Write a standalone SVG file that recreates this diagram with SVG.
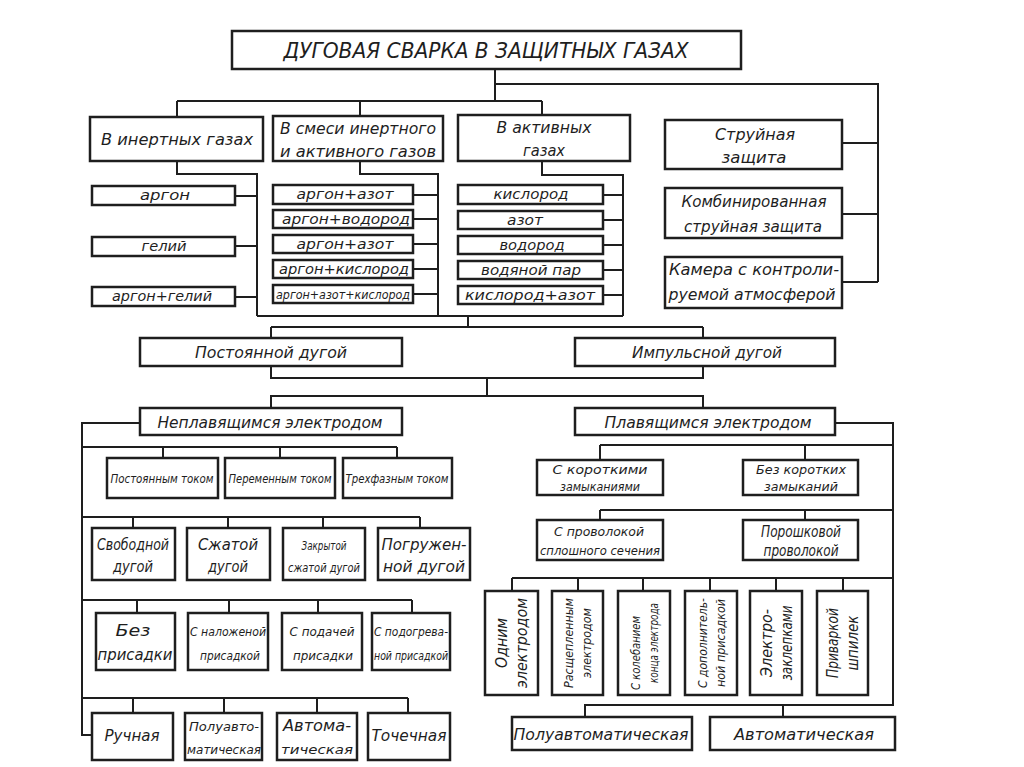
<svg xmlns="http://www.w3.org/2000/svg" width="1024" height="767" viewBox="0 0 1024 767">
<style>
.b{fill:#fff;stroke:#1e1e1e;stroke-width:2.5}
.c{fill:none;stroke:#1e1e1e;stroke-width:2}
.t{font-family:"Liberation Sans Narrow","DejaVu Sans Condensed","Liberation Sans",sans-serif;font-style:italic;fill:#1e1e1e;text-anchor:middle;font-size:14px}
.l{font-size:16px}
.s{font-size:13px}
</style>
<rect width="1024" height="767" fill="#fff"/>
<g id="connectors">
<path class="c" d="M495,69V101M495,84H878V282M842,143H878M842,214H878M842,282H878"/>
<path class="c" d="M177,101H542M177,101V117M360,101V116M542,101V115"/>
<path class="c" d="M177,161V174H257V316M235,196H257M235,246H257M235,297H257"/>
<path class="c" d="M360,161V174H438V316M413,195H438M413,219H438M413,244H438M413,269H438M413,294H438"/>
<path class="c" d="M542,161V175H623V316M603,195H623M603,220H623M603,245H623M603,270H623M603,295H623"/>
<path class="c" d="M257,316H623M468,316V327M271,327H703M271,327V338M703,327V338"/>
<path class="c" d="M271,366V378H703V366M487,378V396M271,408V396H703V408"/>
<path class="c" d="M140,423H82V735H92"/>
<path class="c" d="M82,447H397M163,447V458M280,447V458M397,447V458"/>
<path class="c" d="M82,517H420M133,517V528M228,517V528M323,517V528M420,517V528"/>
<path class="c" d="M82,600H412M137,600V613M229,600V613M318,600V613M412,600V613"/>
<path class="c" d="M82,698H408M133,698V713M224,698V713M317,698V713M408,698V713"/>
<path class="c" d="M835,423H893V705H585V717M783,705V717"/>
<path class="c" d="M600,445H893M600,445V460M805,445V460"/>
<path class="c" d="M600,510H893M600,510V520M805,510V520"/>
<path class="c" d="M512,578H893M512,578V591M578,578V591M643,578V591M710,578V591M776,578V591M843,578V591"/>
</g>
<g id="title"><rect class="b" x="232" y="31" width="509" height="38"/><text class="t" x="486" y="58" style="font-size:22px" textLength="405" lengthAdjust="spacingAndGlyphs">ДУГОВАЯ СВАРКА В ЗАЩИТНЫХ ГАЗАХ</text></g>
<g id="inert"><rect class="b" x="90" y="117" width="173" height="44"/><text class="t l" x="177" y="145" textLength="152" lengthAdjust="spacingAndGlyphs">В инертных газах</text></g>
<g id="mix"><rect class="b" x="273" y="116" width="170" height="45"/><text class="t l" x="358" y="134" textLength="156" lengthAdjust="spacingAndGlyphs">В смеси инертного</text><text class="t l" x="358" y="157" textLength="156" lengthAdjust="spacingAndGlyphs">и активного газов</text></g>
<g id="active"><rect class="b" x="458" y="115" width="172" height="46"/><text class="t l" x="544" y="133" textLength="95" lengthAdjust="spacingAndGlyphs">В активных</text><text class="t l" x="544" y="156" textLength="42" lengthAdjust="spacingAndGlyphs">газах</text></g>
<g id="g-argon"><rect class="b" x="92" y="186" width="143" height="19"/><text class="t" x="165" y="200" textLength="50" lengthAdjust="spacingAndGlyphs">аргон</text></g>
<g id="g-helium"><rect class="b" x="92" y="237" width="143" height="19"/><text class="t" x="164" y="251" textLength="45" lengthAdjust="spacingAndGlyphs">гелий</text></g>
<g id="g-arhe"><rect class="b" x="92" y="287" width="143" height="19"/><text class="t" x="162" y="301" textLength="100" lengthAdjust="spacingAndGlyphs">аргон+гелий</text></g>
<g id="m1"><rect class="b" x="273" y="185" width="140" height="19"/><text class="t" x="345" y="199" textLength="97" lengthAdjust="spacingAndGlyphs">аргон+азот</text></g>
<g id="m2"><rect class="b" x="273" y="210" width="140" height="18"/><text class="t" x="346" y="224" textLength="128" lengthAdjust="spacingAndGlyphs">аргон+водород</text></g>
<g id="m3"><rect class="b" x="273" y="235" width="140" height="18"/><text class="t" x="345" y="249" textLength="97" lengthAdjust="spacingAndGlyphs">аргон+азот</text></g>
<g id="m4"><rect class="b" x="273" y="260" width="140" height="18"/><text class="t" x="344" y="274" textLength="130" lengthAdjust="spacingAndGlyphs">аргон+кислород</text></g>
<g id="m5"><rect class="b" x="273" y="285" width="140" height="18"/><text class="t s" x="343" y="299" textLength="134" lengthAdjust="spacingAndGlyphs">аргон+азот+кислород</text></g>
<g id="a1"><rect class="b" x="458" y="185" width="145" height="19"/><text class="t" x="531" y="199" textLength="75" lengthAdjust="spacingAndGlyphs">кислород</text></g>
<g id="a2"><rect class="b" x="458" y="211" width="145" height="18"/><text class="t" x="525" y="225" textLength="36" lengthAdjust="spacingAndGlyphs">азот</text></g>
<g id="a3"><rect class="b" x="458" y="236" width="145" height="18"/><text class="t" x="532" y="250" textLength="65" lengthAdjust="spacingAndGlyphs">водород</text></g>
<g id="a4"><rect class="b" x="458" y="261" width="145" height="18"/><text class="t" x="531" y="275" textLength="100" lengthAdjust="spacingAndGlyphs">водяной пар</text></g>
<g id="a5"><rect class="b" x="458" y="286" width="145" height="18"/><text class="t" x="530" y="300" textLength="130" lengthAdjust="spacingAndGlyphs">кислород+азот</text></g>
<g id="jet"><rect class="b" x="665" y="120" width="177" height="49"/><text class="t l" x="755" y="140" textLength="80" lengthAdjust="spacingAndGlyphs">Струйная</text><text class="t l" x="754" y="163" textLength="65" lengthAdjust="spacingAndGlyphs">защита</text></g>
<g id="combo"><rect class="b" x="665" y="188" width="177" height="50"/><text class="t l" x="754" y="207" textLength="145" lengthAdjust="spacingAndGlyphs">Комбинированная</text><text class="t l" x="753" y="232" textLength="138" lengthAdjust="spacingAndGlyphs">струйная защита</text></g>
<g id="chamber"><rect class="b" x="665" y="257" width="177" height="51"/><text class="t l" x="754" y="275" textLength="170" lengthAdjust="spacingAndGlyphs">Камера с контроли-</text><text class="t l" x="752" y="300" textLength="167" lengthAdjust="spacingAndGlyphs">руемой атмосферой</text></g>
<g id="const-arc"><rect class="b" x="140" y="338" width="262" height="28"/><text class="t l" x="271" y="358" textLength="152" lengthAdjust="spacingAndGlyphs">Постоянной дугой</text></g>
<g id="pulse-arc"><rect class="b" x="575" y="338" width="260" height="28"/><text class="t l" x="707" y="358" textLength="150" lengthAdjust="spacingAndGlyphs">Импульсной дугой</text></g>
<g id="nonconsumable"><rect class="b" x="140" y="408" width="262" height="27"/><text class="t l" x="270" y="428" textLength="225" lengthAdjust="spacingAndGlyphs">Неплавящимся электродом</text></g>
<g id="consumable"><rect class="b" x="575" y="408" width="260" height="27"/><text class="t l" x="708" y="428" textLength="207" lengthAdjust="spacingAndGlyphs">Плавящимся электродом</text></g>
<g id="dc"><rect class="b" x="107" y="458" width="111" height="40"/><text class="t s" x="162" y="483" textLength="103" lengthAdjust="spacingAndGlyphs">Постоянным током</text></g>
<g id="ac"><rect class="b" x="225" y="458" width="110" height="40"/><text class="t s" x="280" y="483" textLength="103" lengthAdjust="spacingAndGlyphs">Переменным током</text></g>
<g id="three"><rect class="b" x="343" y="458" width="109" height="40"/><text class="t s" x="397" y="483" textLength="103" lengthAdjust="spacingAndGlyphs">Трехфазным током</text></g>
<g id="free"><rect class="b" x="92" y="528" width="83" height="52"/><text class="t l" x="133" y="550" textLength="72" lengthAdjust="spacingAndGlyphs">Свободной</text><text class="t l" x="133" y="572" textLength="40" lengthAdjust="spacingAndGlyphs">дугой</text></g>
<g id="compressed"><rect class="b" x="187" y="528" width="83" height="52"/><text class="t l" x="228" y="550" textLength="60" lengthAdjust="spacingAndGlyphs">Сжатой</text><text class="t l" x="228" y="572" textLength="40" lengthAdjust="spacingAndGlyphs">дугой</text></g>
<g id="closed"><rect class="b" x="283" y="528" width="82" height="52"/><text class="t s" x="324" y="550" textLength="45" lengthAdjust="spacingAndGlyphs">Закрытой</text><text class="t s" x="324" y="572" textLength="72" lengthAdjust="spacingAndGlyphs">сжатой дугой</text></g>
<g id="submerged"><rect class="b" x="378" y="528" width="92" height="52"/><text class="t l" x="424" y="550" textLength="85" lengthAdjust="spacingAndGlyphs">Погружен-</text><text class="t l" x="424" y="572" textLength="82" lengthAdjust="spacingAndGlyphs">ной дугой</text></g>
<g id="nofill"><rect class="b" x="96" y="613" width="79" height="57"/><text class="t l" x="133" y="636" textLength="35" lengthAdjust="spacingAndGlyphs">Без</text><text class="t l" x="135" y="660" textLength="75" lengthAdjust="spacingAndGlyphs">присадки</text></g>
<g id="laidfill"><rect class="b" x="188" y="613" width="80" height="57"/><text class="t s" x="228" y="636" textLength="76" lengthAdjust="spacingAndGlyphs">С наложеной</text><text class="t s" x="230" y="660" textLength="60" lengthAdjust="spacingAndGlyphs">присадкой</text></g>
<g id="fedfill"><rect class="b" x="282" y="613" width="80" height="57"/><text class="t s" x="322" y="636" textLength="65" lengthAdjust="spacingAndGlyphs">С подачей</text><text class="t s" x="323" y="660" textLength="60" lengthAdjust="spacingAndGlyphs">присадки</text></g>
<g id="heatedfill"><rect class="b" x="372" y="613" width="78" height="57"/><text class="t s" x="411" y="636" textLength="74" lengthAdjust="spacingAndGlyphs">С подогрева-</text><text class="t s" x="411" y="660" textLength="74" lengthAdjust="spacingAndGlyphs">ной присадкой</text></g>
<g id="manual"><rect class="b" x="92" y="713" width="81" height="47"/><text class="t l" x="132" y="741" textLength="55" lengthAdjust="spacingAndGlyphs">Ручная</text></g>
<g id="semi1"><rect class="b" x="185" y="713" width="77" height="47"/><text class="t s" x="224" y="731" textLength="70" lengthAdjust="spacingAndGlyphs">Полуавто-</text><text class="t s" x="224" y="754" textLength="74" lengthAdjust="spacingAndGlyphs">матическая</text></g>
<g id="auto1"><rect class="b" x="277" y="713" width="80" height="47"/><text class="t l" x="317" y="731" textLength="68" lengthAdjust="spacingAndGlyphs">Автома-</text><text class="t s" x="317" y="754" textLength="72" lengthAdjust="spacingAndGlyphs">тическая</text></g>
<g id="spot"><rect class="b" x="368" y="713" width="82" height="47"/><text class="t l" x="409" y="741" textLength="75" lengthAdjust="spacingAndGlyphs">Точечная</text></g>
<g id="short"><rect class="b" x="537" y="460" width="126" height="35"/><text class="t s" x="600" y="474" textLength="95" lengthAdjust="spacingAndGlyphs">С короткими</text><text class="t s" x="600" y="491" textLength="80" lengthAdjust="spacingAndGlyphs">замыканиями</text></g>
<g id="noshort"><rect class="b" x="743" y="460" width="115" height="35"/><text class="t s" x="801" y="474" textLength="90" lengthAdjust="spacingAndGlyphs">Без коротких</text><text class="t s" x="801" y="491" textLength="74" lengthAdjust="spacingAndGlyphs">замыканий</text></g>
<g id="solid"><rect class="b" x="537" y="520" width="126" height="40"/><text class="t s" x="599" y="536" textLength="90" lengthAdjust="spacingAndGlyphs">С проволокой</text><text class="t s" x="600" y="555" textLength="120" lengthAdjust="spacingAndGlyphs">сплошного сечения</text></g>
<g id="flux"><rect class="b" x="743" y="520" width="115" height="40"/><text class="t l" x="801" y="537" textLength="80" lengthAdjust="spacingAndGlyphs">Порошковой</text><text class="t l" x="801" y="556" textLength="75" lengthAdjust="spacingAndGlyphs">проволокой</text></g>
<g id="v1"><rect class="b" x="485" y="591" width="53" height="104"/><g transform="translate(511,643) rotate(-90)"><text class="t l" x="0" y="-4" textLength="50" lengthAdjust="spacingAndGlyphs">Одним</text><text class="t l" x="0" y="16" textLength="90" lengthAdjust="spacingAndGlyphs">электродом</text></g></g>
<g id="v2"><rect class="b" x="552" y="591" width="51" height="104"/><g transform="translate(577,643) rotate(-90)"><text class="t s" x="0" y="-4" textLength="90" lengthAdjust="spacingAndGlyphs">Расщепленным</text><text class="t s" x="0" y="14" textLength="70" lengthAdjust="spacingAndGlyphs">электродом</text></g></g>
<g id="v3"><rect class="b" x="618" y="591" width="52" height="104"/><g transform="translate(644,643) rotate(-90)"><text class="t s" x="-10" y="-4" textLength="74" lengthAdjust="spacingAndGlyphs">С колебанием</text><text class="t s" x="0" y="14" textLength="80" lengthAdjust="spacingAndGlyphs">конца электрода</text></g></g>
<g id="v4"><rect class="b" x="685" y="591" width="52" height="104"/><g transform="translate(711,643) rotate(-90)"><text class="t s" x="0" y="-4" textLength="90" lengthAdjust="spacingAndGlyphs">С дополнитель-</text><text class="t s" x="0" y="14" textLength="88" lengthAdjust="spacingAndGlyphs">ной присадкой</text></g></g>
<g id="v5"><rect class="b" x="750" y="591" width="52" height="104"/><g transform="translate(776,643) rotate(-90)"><text class="t l" x="0" y="-4" textLength="68" lengthAdjust="spacingAndGlyphs">Электро-</text><text class="t l" x="0" y="16" textLength="75" lengthAdjust="spacingAndGlyphs">заклепками</text></g></g>
<g id="v6"><rect class="b" x="817" y="591" width="51" height="104"/><g transform="translate(842,643) rotate(-90)"><text class="t l" x="0" y="-4" textLength="70" lengthAdjust="spacingAndGlyphs">Приваркой</text><text class="t l" x="0" y="16" textLength="55" lengthAdjust="spacingAndGlyphs">шпилек</text></g></g>
<g id="semi2"><rect class="b" x="512" y="717" width="180" height="33"/><text class="t l" x="601" y="740" textLength="175" lengthAdjust="spacingAndGlyphs">Полуавтоматическая</text></g>
<g id="auto2"><rect class="b" x="710" y="717" width="185" height="33"/><text class="t l" x="804" y="740" textLength="140" lengthAdjust="spacingAndGlyphs">Автоматическая</text></g>
</svg>
